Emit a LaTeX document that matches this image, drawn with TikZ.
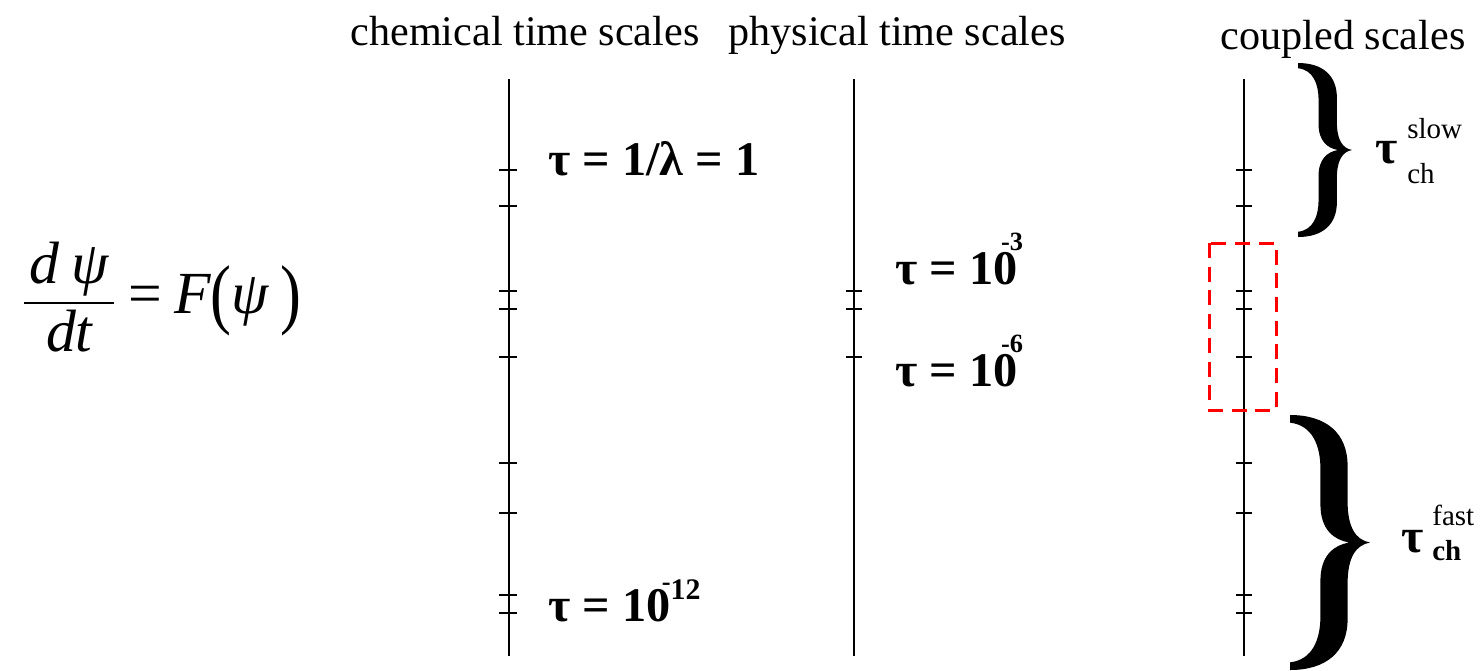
\documentclass[tikz,border=0pt]{standalone}
\usepackage{amsmath}
\usepackage{fontspec}
\setmainfont{Liberation Serif}
\usetikzlibrary{positioning}
% exponent set over the last digit, as in the original slide
\newcommand{\ovsup}[4]{\hspace*{#1}\raisebox{#2}{\fontsize{#3}{#3}\selectfont #4}}
\newcommand{\bigparen}[1]{\raisebox{-3pt}{\scalebox{1.05}[1.3]{#1}}}

\begin{document}
\begin{tikzpicture}[
  x=0.02cm, y=-0.02cm,
  axis/.style={line width=1.1pt},
  tick/.style={line width=1.1pt},
  heading/.style={font=\fontsize{24}{28}\selectfont, anchor=base, inner sep=0pt},
  taulabel/.style={font=\bfseries\fontsize{27.5}{30}\selectfont, anchor=base west, inner sep=0pt},
  supsub/.style={font=\fontsize{16.5}{18}\selectfont, anchor=base west, inner sep=0pt},
  window/.style={draw=red, line width=1.7pt, dash pattern=on 8.5pt off 5pt},
  bigbrace/.pic={
    \fill (0,0) .. controls (0.45,0) and (0.72,0.07) .. (0.72,0.20)
      -- (0.72,0.34) .. controls (0.72,0.44) and (0.82,0.49) .. (1,0.5)
      .. controls (0.82,0.51) and (0.72,0.56) .. (0.72,0.66)
      -- (0.72,0.80) .. controls (0.72,0.93) and (0.45,1) .. (0,1)
      -- (0,0.97) .. controls (0.28,0.96) and (0.38,0.88) .. (0.38,0.79)
      -- (0.38,0.65) .. controls (0.38,0.55) and (0.55,0.51) .. (0.74,0.5)
      .. controls (0.55,0.49) and (0.38,0.45) .. (0.38,0.35)
      -- (0.38,0.21) .. controls (0.38,0.12) and (0.28,0.04) .. (0,0.03) -- cycle;
  }
]
  \useasboundingbox (0,0) rectangle (1483,670);

  % the model equation
  \node[font=\fontsize{34}{38}\selectfont, inner sep=0pt] (law) at (162,297)
    {$\displaystyle\genfrac{}{}{1.1pt}{0}{\hspace{3pt}\textit{d}\;\textit{ψ}\hspace{3pt}}{\textit{dt}}
      \mathrel{\textrm{=}} \textit{F}\bigparen{(}\textit{ψ}\;\bigparen{)}$};

  % column headings
  \node[heading] (chemhead) at (525,45) {chemical time scales};
  \node[heading] (physhead) at (897,45) {physical time scales};
  \node[heading] (couphead) at (1343,49) {coupled scales};

  % three time axes
  \coordinate (chemtop) at (509,79);  \coordinate (chembot) at (509,656);
  \coordinate (phystop) at (854,79);  \coordinate (physbot) at (854,656);
  \coordinate (couptop) at (1244,79); \coordinate (coupbot) at (1244,656);
  \draw[axis] (chemtop) -- (chembot);
  \draw[axis] (phystop) -- (physbot);
  \draw[axis] (couptop) -- (coupbot);

  \foreach \y in {170,206,291,309,357,463,513,595,613} {
    \draw[tick] (499,\y) -- (517,\y);
    \draw[tick] (1236,\y) -- (1252,\y);
  }
  \foreach \y in {291,309,357}
    \draw[tick] (846,\y) -- (862,\y);

  % scale labels
  \node[taulabel] (tauone) at (548,175) {τ = 1/λ = 1};
  \node[taulabel] (taumilli) at (895,284) {τ = 10\ovsup{-9.4pt}{19pt}{15}{-3}};
  \node[taulabel] (taumicro) at (895,386) {τ = 10\ovsup{-9.4pt}{19pt}{15}{-6}};
  \node[taulabel] (taupico) at (548,621)
    {τ = 10\ovsup{-5pt}{17.5pt}{15}{-}\ovsup{0pt}{12.5pt}{17}{12}};

  % overlap window on the coupled axis
  \draw[window] (1209,243) rectangle (1276,410);

  % slow and fast groups
  \pic at (1298,63) [xscale=54, yscale=174] {bigbrace};
  \pic at (1290,415) [xscale=80, yscale=255] {bigbrace};

  \node[taulabel] (tauslow) at (1375,163) {τ};
  \node[supsub] (slowsup) at (1407,138) {slow};
  \node[supsub] (slowsub) at (1407,183) {ch};

  \node[taulabel] (taufast) at (1401,552) {τ};
  \node[supsub] (fastsup) at (1432,525) {fast};
  \node[supsub, font=\bfseries\fontsize{16.5}{18}\selectfont] (fastsub) at (1432,560) {ch};
\end{tikzpicture}
\end{document}
